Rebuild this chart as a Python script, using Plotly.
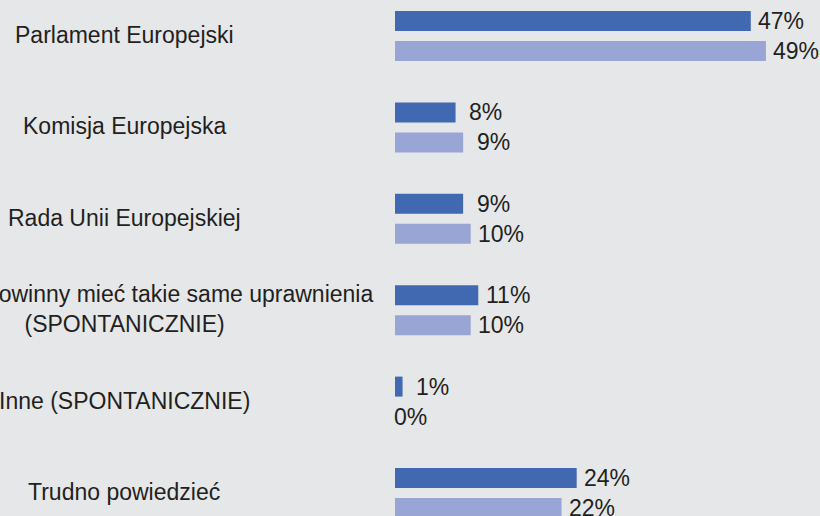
import plotly.graph_objects as go

categories = [
    "Parlament Europejski",
    "Komisja Europejska",
    "Rada Unii Europejskiej",
    "Wszystkie powinny mieć takie same uprawnienia<br>(SPONTANICZNIE)",
    "Inne (SPONTANICZNIE)",
    "Trudno powiedzieć",
]
series_a = [47, 8, 9, 11, 1, 24]
series_b = [49, 9, 10, 10, 0, 22]
labels_a = ["47%", "8%", "9%", "11%", "1%", "24%"]
labels_b = ["49%", "9%", "10%", "10%", "0%", "22%"]

W, H = 820, 516
ML = 395
PX_PER_PCT = 7.57
PX_PER_CAT = 91.4
FIRST_CENTER = 36
BAR_PX = 20

BG = "#e6e7e9"
DARK = "#4169b2"
LIGHT = "#99a5d5"
TXT = "#231f20"
FONT = "Liberation Sans Narrow, Arial Narrow, Liberation Sans, Arial, sans-serif"
FS = 23

ypos = list(range(len(categories)))
w = BAR_PX / PX_PER_CAT
off_a = -25 / PX_PER_CAT
off_b = 5 / PX_PER_CAT

fig = go.Figure()
fig.add_trace(go.Bar(y=ypos, x=series_a, orientation="h", width=w, offset=off_a,
                     marker=dict(color=DARK, line=dict(width=0)), hoverinfo="skip"))
fig.add_trace(go.Bar(y=ypos, x=series_b, orientation="h", width=w, offset=off_b,
                     marker=dict(color=LIGHT, line=dict(width=0)), hoverinfo="skip"))

ann = []
for k, (va, vb, la, lb) in enumerate(zip(series_a, series_b, labels_a, labels_b)):
    for v, lab, off in ((va, la, off_a), (vb, lb, off_b)):
        ann.append(dict(x=v, y=k + off + w / 2, xref="x", yref="y", text=lab,
                        showarrow=False, xanchor="center", yanchor="middle",
                        xshift=30 if v > 0 else 15,
                        font=dict(family=FONT, size=FS, color=TXT)))
plot_w = W - ML
for k, c in enumerate(categories):
    ann.append(dict(x=(124 - ML) / plot_w, y=k, xref="paper", yref="y", text=c,
                    showarrow=False, xanchor="center", yanchor="middle", align="center",
                    yshift=1,
                    font=dict(family=FONT, size=FS, color=TXT)))

fig.update_layout(
    width=W, height=H,
    margin=dict(l=ML, r=0, t=0, b=0, pad=0),
    paper_bgcolor=BG, plot_bgcolor=BG,
    barmode="overlay", showlegend=False,
    xaxis=dict(range=[0, plot_w / PX_PER_PCT], visible=False, fixedrange=True),
    yaxis=dict(range=[(H - FIRST_CENTER) / PX_PER_CAT, -FIRST_CENTER / PX_PER_CAT],
               visible=False, fixedrange=True),
    annotations=ann,
)
fig.write_html("out.html", config={"displayModeBar": False},
               post_script="document.body.style.margin='0';document.body.style.overflow='hidden';document.body.style.background='%s';" % BG)
